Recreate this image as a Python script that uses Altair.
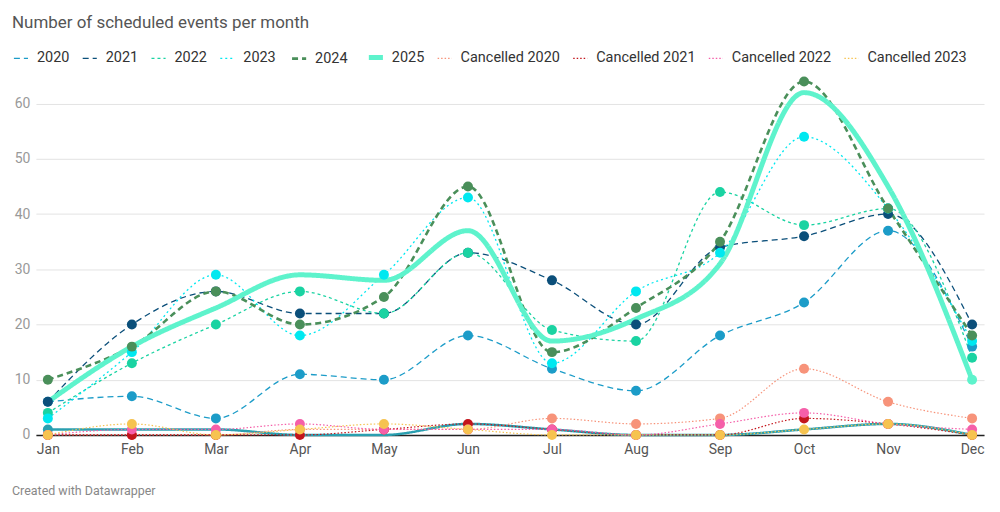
import altair as alt
import pandas as pd

months = ["Jan", "Feb", "Mar", "Apr", "May", "Jun", "Jul", "Aug", "Sep", "Oct", "Nov", "Dec"]

s2020 = [6, 7, 3, 11, 10, 18, 12, 8, 18, 24, 37, 16]
s2021 = [6, 20, 26, 22, 22, 33, 28, 20, 34, 36, 40, 20]
s2022 = [4, 13, 20, 26, 22, 33, 19, 17, 44, 38, 41, 14]
s2023 = [3, 15, 29, 18, 29, 43, 13, 26, 33, 54, 41, 17]
s2024 = [10, 16, 26, 20, 25, 45, 15, 23, 35, 64, 41, 18]
s2025 = [6, 16, 23, 29, 28, 37, 17, 21, 31, 62, 45, 10]
c2020 = [0, 0, 0, 1, 1, 1, 3, 2, 3, 12, 6, 3]
c2021 = [0, 0, 0, 0, 1, 2, 1, 0, 0, 3, 2, 0]
c2022 = [0, 1, 1, 2, 1, 1, 1, 0, 2, 4, 2, 1]
c2023 = [0, 2, 0, 1, 2, 1, 0, 0, 0, 1, 2, 0]
c2024 = [1, 1, 1, 0, 0, 2, 1, 0, 0, 1, 2, 0]

names = ["2020", "2021", "2022", "2023", "2024", "2025",
         "Cancelled 2024", "Cancelled 2020", "Cancelled 2021", "Cancelled 2022", "Cancelled 2023"]
values = [s2020, s2021, s2022, s2023, s2024, s2025, c2024, c2020, c2021, c2022, c2023]
legend_names = ["2020", "2021", "2022", "2023", "2024", "2025",
                "Cancelled 2020", "Cancelled 2021", "Cancelled 2022", "Cancelled 2023"]

colors = ["#1c9cc8", "#0b4f7a", "#1ad3a2", "#00e8f0", "#4a8f5a", "#5ef3cc",
          "#2a9fb0", "#f7937a", "#c3151c", "#f55fa9", "#f6c350"]
dashes = [[6, 4], [6, 4], [3, 3], [2, 3], [6, 4], [1, 0],
          [1, 0], [1.5, 2], [1.5, 2], [1.5, 2], [1.5, 2]]
widths = [1.3, 1.3, 1.3, 1.3, 2.6, 5, 2.5, 1.2, 1.2, 1.2, 1.2]

rows = []
for n, vals in zip(names, values):
    for i, (m, v) in enumerate(zip(months, vals)):
        show = True
        if n == "2025":
            show = (i == len(months) - 1)
        if n == "Cancelled 2024":
            show = (i == 0)
        rows.append({"month": m, "value": v, "series": n, "show": show})
df = pd.DataFrame(rows)

W, H = 951, 360

leg = alt.Legend(
    title=None, orient="none", legendX=-25, legendY=-28.5, direction="horizontal",
    columns=10, values=legend_names, labelFont="Roboto", labelFontSize=14.5,
    labelColor="#333", symbolSize=200, labelOffset=6, columnPadding=10,
)

x_enc = alt.X("month:O", sort=months, scale=alt.Scale(padding=0.142),
              axis=alt.Axis(title=None, labelAngle=0, labelFont="Roboto", labelFontSize=14,
                            labelColor="#555", labelPadding=8, ticks=False,
                            domainColor="#222", domainWidth=1.5, grid=False))
y_enc = alt.Y("value:Q", scale=alt.Scale(domain=[0, 65], nice=False),
              axis=alt.Axis(title=None, values=[0, 10, 20, 30, 40, 50, 60], labelFont="Roboto",
                            labelFontSize=14, labelColor="#999", labelPadding=6, ticks=False,
                            domain=False, gridColor="#e3e3e3", gridWidth=1))

lines = alt.Chart(df).mark_line(interpolate="monotone").encode(
    x=x_enc, y=y_enc,
    color=alt.Color("series:N", scale=alt.Scale(domain=names, range=colors), legend=leg),
    strokeDash=alt.StrokeDash("series:N", scale=alt.Scale(domain=names, range=dashes), legend=leg),
    strokeWidth=alt.StrokeWidth("series:N",
                                scale=alt.Scale(type="ordinal", domain=names, range=widths),
                                legend=leg),
)

points = alt.Chart(df).transform_filter("datum.show").mark_circle(size=100, opacity=1).encode(
    x=alt.X("month:O", sort=months),
    y="value:Q",
    color=alt.Color("series:N", legend=None),
)

title_df = pd.DataFrame({"t": ["Number of scheduled events per month"]})
title = alt.Chart(title_df).mark_text(align="left", baseline="middle", font="Roboto",
                                      fontSize=17, color="#555").encode(
    text="t:N", x=alt.value(-24), y=alt.value(-53.5))

foot_df = pd.DataFrame({"t": ["Created with Datawrapper"]})
footer = alt.Chart(foot_df).mark_text(align="left", baseline="middle", font="Roboto",
                                      fontSize=12.5, color="#888").encode(
    text="t:N", x=alt.value(-24), y=alt.value(416.5))

chart = alt.layer(lines, points, title, footer).properties(
    width=W, height=H,
    autosize=alt.AutoSizeParams(type="none"),
    padding={"left": 28, "top": 67.5, "right": 8, "bottom": 70},
).configure_view(stroke=None)

chart.save("out.html", embed_options={"renderer": "svg", "actions": False})
